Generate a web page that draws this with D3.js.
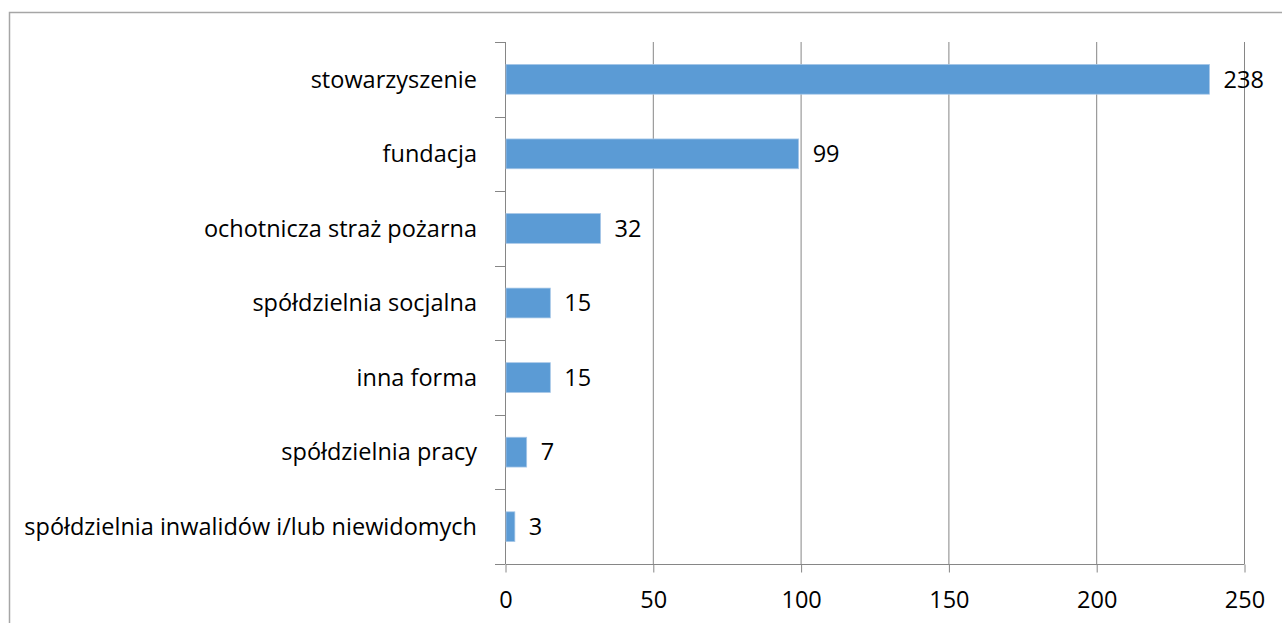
<!DOCTYPE html>
<html>
<head>
<meta charset="utf-8">
<script src="https://cdn.jsdelivr.net/npm/d3@7"></script>
<style>
  body { margin: 0; background: #fff; }
  svg text { font-family: "Open Sans", Lato, sans-serif; fill: #000; }
</style>
</head>
<body>
<div id="chart"></div>
<script>
const categories = [
  "stowarzyszenie",
  "fundacja",
  "ochotnicza straż pożarna",
  "spółdzielnia socjalna",
  "inna forma",
  "spółdzielnia pracy",
  "spółdzielnia inwalidów i/lub niewidomych"
];
const values = [238, 99, 32, 15, 15, 7, 3];
const xTicks = [0, 50, 100, 150, 200, 250];

const width = 1282, height = 623;
const plotLeft = 505, plotRight = 1244, plotTop = 42, plotBottom = 564;
const gridColor = "#868686";
const fontSize = "23.5px";

const svg = d3.select("#chart")
  .append("svg")
  .attr("width", width)
  .attr("height", height);

// outer frame (right/bottom edges run off the picture)
svg.append("path")
  .attr("d", `M9.5,${height} V12.5 H${width}`)
  .attr("fill", "none")
  .attr("stroke", "#a6a6a6")
  .attr("stroke-width", 1.5);

const x = d3.scaleLinear().domain([0, 250]).range([plotLeft, plotRight]);
const y = d3.scaleBand().domain(categories).range([plotTop, plotBottom]).paddingInner(0.6).paddingOuter(0.3);
const band = d3.scaleBand().domain(categories).range([plotTop, plotBottom]);

// vertical gridlines
svg.append("g")
  .selectAll("line")
  .data(xTicks.slice(1))
  .join("line")
  .attr("x1", d => x(d) + 0.5).attr("x2", d => x(d) + 0.5)
  .attr("y1", plotTop).attr("y2", plotBottom)
  .attr("stroke", gridColor);

// x axis
const xAxis = svg.append("g")
  .attr("transform", `translate(0.5,${plotBottom + 0.5})`)
  .call(d3.axisBottom(x).tickValues(xTicks).tickSize(8).tickPadding(19));
xAxis.select(".domain").attr("stroke", gridColor).attr("d", `M${plotLeft},0H${plotRight}`);
xAxis.selectAll(".tick line").attr("stroke", gridColor);
xAxis.selectAll(".tick text").style("font-size", fontSize).attr("fill", "#000");

// y axis line and category ticks
svg.append("line")
  .attr("x1", plotLeft + 0.5).attr("x2", plotLeft + 0.5)
  .attr("y1", plotTop).attr("y2", plotBottom)
  .attr("stroke", gridColor);
const yTickPos = categories.map(c => band(c)).concat([plotBottom]);
svg.append("g")
  .selectAll("line")
  .data(yTickPos)
  .join("line")
  .attr("x1", plotLeft - 10).attr("x2", plotLeft)
  .attr("y1", d => Math.round(d) + 0.5).attr("y2", d => Math.round(d) + 0.5)
  .attr("stroke", gridColor);

// category labels
svg.append("g")
  .selectAll("text")
  .data(categories)
  .join("text")
  .attr("x", plotLeft - 28)
  .attr("y", d => band(d) + band.bandwidth() / 2)
  .attr("dy", "0.35em")
  .attr("text-anchor", "end")
  .style("font-size", fontSize)
  .text(d => d);

// bars
svg.append("g")
  .selectAll("rect")
  .data(values)
  .join("rect")
  .attr("x", x(0) + 1)
  .attr("y", (d, i) => y(categories[i]))
  .attr("width", d => x(d) - x(0))
  .attr("height", y.bandwidth())
  .attr("fill", "#5b9bd5")
  .attr("stroke", "#a9c8e8")
  .attr("stroke-width", 0.75);

// value labels
svg.append("g")
  .selectAll("text")
  .data(values)
  .join("text")
  .attr("x", d => x(d) + 15)
  .attr("y", (d, i) => band(categories[i]) + band.bandwidth() / 2)
  .attr("dy", "0.35em")
  .style("font-size", fontSize)
  .text(d => d);
</script>
</body>
</html>
